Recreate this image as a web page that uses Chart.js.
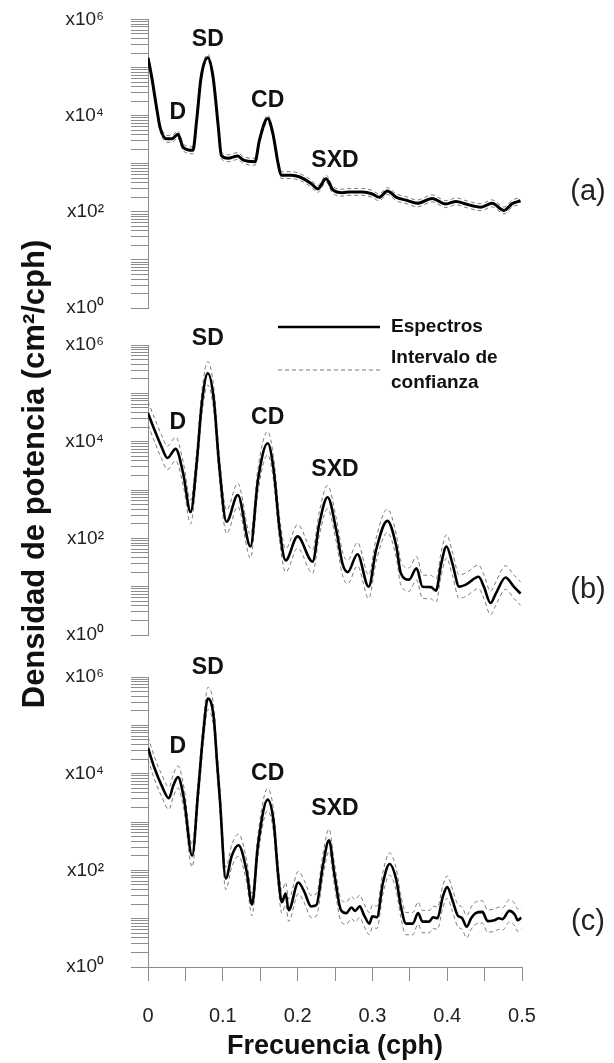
<!DOCTYPE html>
<html>
<head>
<meta charset="utf-8">
<title>Densidad de potencia</title>
<script src="https://cdn.jsdelivr.net/npm/chart.js@4/dist/chart.umd.min.js"></script>
<style>
  html, body { margin: 0; padding: 0; background: #ffffff; }
  #wrap { position: relative; width: 614px; height: 1063px; overflow: hidden; }
  #wrap canvas { position: absolute; left: 0; }
  #panelA { top: -200px; }
  #panelB, #panelC { top: 0; }
</style>
</head>
<body>
<div id="wrap">
  <canvas id="panelA" width="614" height="1263"></canvas>
  <canvas id="panelB" width="614" height="1063"></canvas>
  <canvas id="panelC" width="614" height="1063"></canvas>
</div>
<script>
// Frequencies (cph) and power spectral density (cm^2/cph) for each record
const freqA = [0, 0.005, 0.012, 0.016, 0.025, 0.032, 0.040, 0.047, 0.060, 0.065,
  0.071, 0.080, 0.087, 0.094, 0.098, 0.107, 0.120, 0.127, 0.143, 0.149,
  0.160, 0.167, 0.174, 0.178, 0.192, 0.203, 0.218, 0.227, 0.238, 0.247,
  0.260, 0.269, 0.287, 0.300, 0.309, 0.320, 0.332, 0.345, 0.360, 0.380,
  0.398, 0.412, 0.425, 0.445, 0.460, 0.476, 0.487, 0.498];
const psdA = [1.6e5, 6.3e4, 1.3e4, 5.8e3, 3.3e3, 3.3e3, 4.1e3, 2.2e3, 1.9e3, 7.9e3,
  6.3e4, 1.6e5, 6.3e4, 5.8e3, 1.5e3, 1.3e3, 1.45e3, 1.2e3, 1.1e3, 3.1e3,
  8.7e3, 4.2e3, 1.0e3, 580, 580, 530, 390, 300, 490, 290,
  250, 260, 260, 235, 200, 270, 200, 175, 150, 190,
  145, 165, 145, 125, 150, 107, 148, 170];

const freqB = [0, 0.009, 0.018, 0.026, 0.037, 0.047, 0.057, 0.065, 0.072, 0.080,
  0.088, 0.095, 0.105, 0.120, 0.137, 0.147, 0.160, 0.168, 0.176, 0.184,
  0.200, 0.220, 0.229, 0.240, 0.252, 0.260, 0.267, 0.280, 0.295, 0.305,
  0.320, 0.332, 0.338, 0.349, 0.359, 0.367, 0.378, 0.385, 0.392, 0.399,
  0.407, 0.416, 0.425, 0.442, 0.449, 0.458, 0.465, 0.478, 0.489, 0.498];
const psdB = [3.9e4, 1.7e4, 7.9e3, 4.6e3, 7.1e3, 2.2e3, 350, 3.5e3, 6.3e4, 2.6e5,
  7.4e4, 3.5e3, 220, 790, 68, 1.6e3, 9.3e3, 2.6e3, 150, 35,
  110, 33, 200, 710, 140, 30, 20, 47, 10, 58,
  230, 68, 19, 14, 24, 10, 9.8, 8.3, 30, 68,
  30, 10, 11, 16, 10, 4.6, 7.2, 15.5, 10, 7.2];

const freqC = [0, 0.009, 0.018, 0.028, 0.034, 0.040, 0.048, 0.059, 0.067, 0.074,
  0.080, 0.088, 0.092, 0.096, 0.104, 0.112, 0.121, 0.132, 0.139, 0.147, 0.160,
  0.168, 0.174, 0.179, 0.184, 0.188, 0.201, 0.209, 0.218, 0.225, 0.234,
  0.242, 0.249, 0.258, 0.265, 0.272, 0.277, 0.283, 0.289, 0.296, 0.300,
  0.306, 0.314, 0.323, 0.332, 0.338, 0.345, 0.354, 0.361, 0.367, 0.376,
  0.381, 0.387, 0.394, 0.400, 0.407, 0.414, 0.420, 0.426, 0.432, 0.438,
  0.447, 0.454, 0.463, 0.469, 0.474, 0.483, 0.491, 0.494, 0.499];
const psdC = [3.4e4, 1.26e4, 5.8e3, 3.1e3, 5.8e3, 8.5e3, 3.1e3, 200, 4.2e3, 7.2e4,
  3.6e5, 1.4e5, 2.0e4, 3.1e3, 68, 200, 330, 93, 19.5, 330, 2.9e3,
  1.0e3, 80, 22, 33, 15, 56, 36, 18, 19, 130,
  420, 87, 15, 13, 17, 14.5, 18, 11.7, 7.9, 11.2,
  10.7, 54, 135, 63, 18, 7.9, 7.9, 13, 8.7, 8.7,
  10.7, 10.2, 28, 45, 24, 11.7, 10.2, 6.8, 10.2, 13,
  13.8, 8.9, 9.3, 10.2, 9.8, 14.5, 11.7, 9.3, 10.5];

// Confidence-interval multipliers applied to each spectrum (upper, lower)
const ciA = [1.18, 1 / 1.18];
const ciB = [1.75, 1 / 1.75];
const ciC = [1.7, 1 / 1.7];

// Axis ticks and labels
const xTickValues = [0, 0.05, 0.1, 0.15, 0.2, 0.25, 0.3, 0.35, 0.4, 0.45, 0.5];
const xTickLabels = ['0', '', '0.1', '', '0.2', '', '0.3', '', '0.4', '', '0.5'];
const yLabelValues = [1, 1e2, 1e4, 1e6];
const yLabelTexts = ['x10\u2070', 'x10\u00B2', 'x10\u2074', 'x10\u2076'];

// Tidal band names and the frequencies they sit over
const peakNames = ['D', 'SD', 'CD', 'SXD'];
const peakFreqs = [0.04, 0.08, 0.16, 0.25];

const panelTags = ['(a)', '(b)', '(c)'];
const legendTexts = ['Espectros', 'Intervalo de', 'confianza'];
const xTitle = 'Frecuencia (cph)';
const yTitle = 'Densidad de potencia (cm\u00B2/cph)';

// --- drawing -------------------------------------------------------------
const FONT = '"Liberation Sans", Arial, Helvetica, sans-serif';
const AXIS_GRAY = '#8c8c8c';
Chart.defaults.font.family = FONT;

// minor/major log ticks: 1..9 x 10^k
const yTickValues = [];
for (let k = 0; k < 6; k++) {
  for (let m = 1; m < 10; m++) yTickValues.push(m * Math.pow(10, k));
}
yTickValues.push(1e6);

function points(freq, psd, factor) {
  return freq.map((f, i) => ({ x: f, y: psd[i] * factor }));
}

function decorPlugin(cfg) {
  return {
    id: 'decor' + cfg.tag.replace(/\W/g, ''),
    afterDatasetsDraw(chart) {
      const ctx = chart.ctx;
      const xs = chart.scales.x, ys = chart.scales.y;
      const area = chart.chartArea;
      ctx.save();
      // band labels above each peak (highest value within the band window)
      ctx.font = 'bold 23px ' + FONT;
      ctx.fillStyle = '#111';
      ctx.textAlign = 'center';
      ctx.textBaseline = 'middle';
      peakNames.forEach((name, i) => {
        const f = peakFreqs[i];
        let top = 0;
        cfg.freq.forEach((fv, j) => {
          if (Math.abs(fv - f) <= 0.0125 && cfg.psd[j] > top) top = cfg.psd[j];
        });
        ctx.fillText(name, xs.getPixelForValue(f), ys.getPixelForValue(top) - cfg.lift[i]);
      });
      // panel tag
      ctx.font = '29px ' + FONT;
      ctx.fillStyle = '#222';
      ctx.fillText(cfg.tag, area.right + 66, area.top + cfg.tagDrop);

      if (cfg.legend) {
        const x0 = area.left + 130, x1 = area.left + 232;
        const ySolid = area.top - 18, yDash = area.top + 25;
        ctx.lineWidth = 2.6;
        ctx.strokeStyle = '#000';
        ctx.beginPath(); ctx.moveTo(x0, ySolid); ctx.lineTo(x1, ySolid); ctx.stroke();
        ctx.lineWidth = 1;
        ctx.strokeStyle = '#7a7a7a';
        ctx.setLineDash([4, 3]);
        ctx.beginPath(); ctx.moveTo(x0, yDash); ctx.lineTo(x1, yDash); ctx.stroke();
        ctx.setLineDash([]);
        ctx.font = 'bold 19px ' + FONT;
        ctx.fillStyle = '#111';
        ctx.textAlign = 'left';
        ctx.fillText(legendTexts[0], x1 + 11, ySolid);
        ctx.fillText(legendTexts[1], x1 + 11, yDash - 12);
        ctx.fillText(legendTexts[2], x1 + 11, yDash + 13);
      }

      if (cfg.yTitle) {
        ctx.translate(35, 474);
        ctx.rotate(-Math.PI / 2);
        ctx.font = 'bold 31px ' + FONT;
        ctx.fillStyle = '#111';
        ctx.textAlign = 'center';
        ctx.fillText(yTitle, 0, 0);
      }
      ctx.restore();
    }
  };
}

function makePanel(id, cfg) {
  const datasets = [
    { data: points(cfg.freq, cfg.psd, 1), borderColor: '#000', borderWidth: cfg.width },
    { data: points(cfg.freq, cfg.psd, cfg.ci[0]), borderColor: '#7a7a7a', borderWidth: 1, borderDash: [4, 3] },
    { data: points(cfg.freq, cfg.psd, cfg.ci[1]), borderColor: '#7a7a7a', borderWidth: 1, borderDash: [4, 3] }
  ].map(d => Object.assign(d, {
    pointRadius: 0, fill: false, cubicInterpolationMode: 'monotone'
  }));

  const xScale = cfg.showX ? {
    type: 'linear', min: 0, max: 0.5,
    afterBuildTicks: s => { s.ticks = xTickValues.map(v => ({ value: v })); },
    afterFit: s => { s.height = 96; },
    border: { display: true, color: AXIS_GRAY, width: 1 },
    grid: { drawOnChartArea: false, drawTicks: true, tickLength: 14, color: AXIS_GRAY, lineWidth: 1 },
    ticks: {
      autoSkip: false, maxRotation: 0, minRotation: 0, padding: 23, color: '#222',
      font: { size: 20 },
      callback: (v, i) => xTickLabels[i]
    },
    title: { display: true, text: xTitle, color: '#111', padding: 0,
             font: { size: 27, weight: 'bold' } }
  } : { type: 'linear', min: 0, max: 0.5, display: false };

  return new Chart(document.getElementById(id), {
    type: 'line',
    data: { datasets },
    options: {
      responsive: false,
      animation: false,
      events: [],
      layout: { padding: { left: 0, right: 92, top: cfg.padTop, bottom: cfg.padBottom } },
      plugins: { legend: { display: false }, tooltip: { enabled: false } },
      scales: {
        x: xScale,
        y: {
          type: 'logarithmic', min: 1, max: 1e6,
          afterBuildTicks: s => { s.ticks = yTickValues.map(v => ({ value: v })); },
          afterFit: s => { s.width = 148; },
          border: { display: true, color: AXIS_GRAY, width: 1 },
          grid: { drawOnChartArea: false, drawTicks: true, tickLength: 17, color: AXIS_GRAY, lineWidth: 1 },
          ticks: {
            autoSkip: false, padding: 27, color: '#222', font: { size: 19 },
            callback: v => {
              const i = yLabelValues.indexOf(v);
              return i >= 0 ? yLabelTexts[i] : '';
            }
          }
        }
      }
    },
    plugins: [decorPlugin(cfg)]
  });
}

// panel (a) canvas sits 200px above the page top, so its paddings include that shift
makePanel('panelA', {
  freq: freqA, psd: psdA, ci: ciA, width: 3, tag: panelTags[0],
  padTop: 219.5, padBottom: 755, showX: false,
  lift: [22, 18, 18, 18], tagDrop: 172
});
makePanel('panelB', {
  freq: freqB, psd: psdB, ci: ciB, width: 2.6, tag: panelTags[1],
  padTop: 345, padBottom: 428, showX: false,
  lift: [26, 35, 26, 28], tagDrop: 245, legend: true
});
makePanel('panelC', {
  freq: freqC, psd: psdC, ci: ciC, width: 2.6, tag: panelTags[2],
  padTop: 677, padBottom: 0, showX: true,
  lift: [30, 31, 26, 32], tagDrop: 245, yTitle: true
});
</script>
</body>
</html>
